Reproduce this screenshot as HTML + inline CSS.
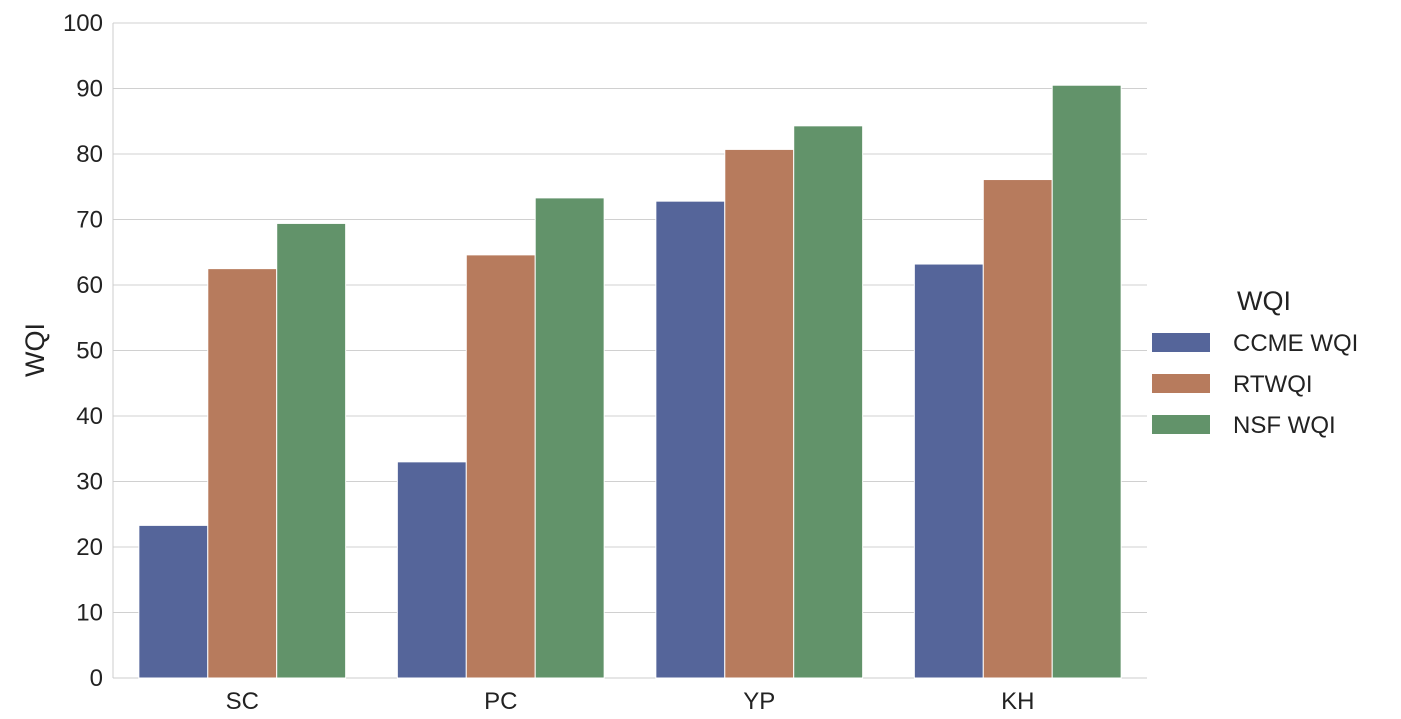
<!DOCTYPE html>
<html><head><meta charset="utf-8"><style>
body{margin:0;background:#fff;}
svg{display:block;font-family:"Liberation Sans",sans-serif;}
</style></head><body>
<svg id="chart" width="1401" height="719"></svg>
<script>
const categories=["SC","PC","YP","KH"];
const seriesNames=["CCME WQI","RTWQI","NSF WQI"];
const ccme=[23.3,33.0,72.8,63.2];
const rtwqi=[62.5,64.6,80.7,76.1];
const nsf=[69.4,73.3,84.3,90.5];
const yTicks=[0,10,20,30,40,50,60,70,80,90,100];
const series=[ccme,rtwqi,nsf];
const colors=["#55659a","#b77b5d","#62936a"];
const NS="http://www.w3.org/2000/svg";
const svg=document.getElementById("chart");
const L=113,R=1147,T=23,B=678;
const y=v=>B-(v/100)*(B-T);
const band=(R-L)/categories.length;
const bw=band*0.8/3;
const x=(ci,si)=>L+band*ci+band*0.1+bw*si;
function mk(tag,attrs,txt){const e=document.createElementNS(NS,tag);for(const k in attrs)e.setAttribute(k,attrs[k]);if(txt!==undefined)e.textContent=txt;svg.appendChild(e);return e;}
yTicks.forEach(t=>{
  const g=mk("line",{x1:L,x2:R,y1:y(t),y2:y(t),stroke:"#d0d0d0","stroke-width":1});
  
  
  const lb=mk("text",{x:103,y:y(t)+8,"text-anchor":"end","font-size":24,fill:"#222"},t);
  
  
});
const ax=mk("line",{x1:L,x2:L,y1:T,y2:B,stroke:"#ccc","stroke-width":1});


const bx=mk("line",{x1:L,x2:R,y1:B,y2:B,stroke:"#ccc","stroke-width":1});


series.forEach((s,si)=>{s.forEach((v,ci)=>{
  const r=mk("rect",{x:x(ci,si),y:y(v),width:bw,height:B-y(v),fill:colors[si],stroke:"#fff","stroke-width":1});
  
  
});});
categories.forEach((c,ci)=>{
  const t=mk("text",{x:L+band*ci+band/2,y:709,"text-anchor":"middle","font-size":24,fill:"#222"},c);
  
  
});
const yt=mk("text",{x:44,y:350,"text-anchor":"middle","font-size":27,fill:"#222",transform:"rotate(-90 44 350)"},"WQI");


const lt=mk("text",{x:1237,y:310,"font-size":27,fill:"#222"},"WQI");


seriesNames.forEach((n,i)=>{
  const yy=333+i*41;
  const p=mk("rect",{x:1152,y:yy,width:58,height:19,fill:colors[i]});
  
  
  const t=mk("text",{x:1233,y:yy+18,"font-size":24,fill:"#222"},n);
  
  
});
</script>
</body></html>
